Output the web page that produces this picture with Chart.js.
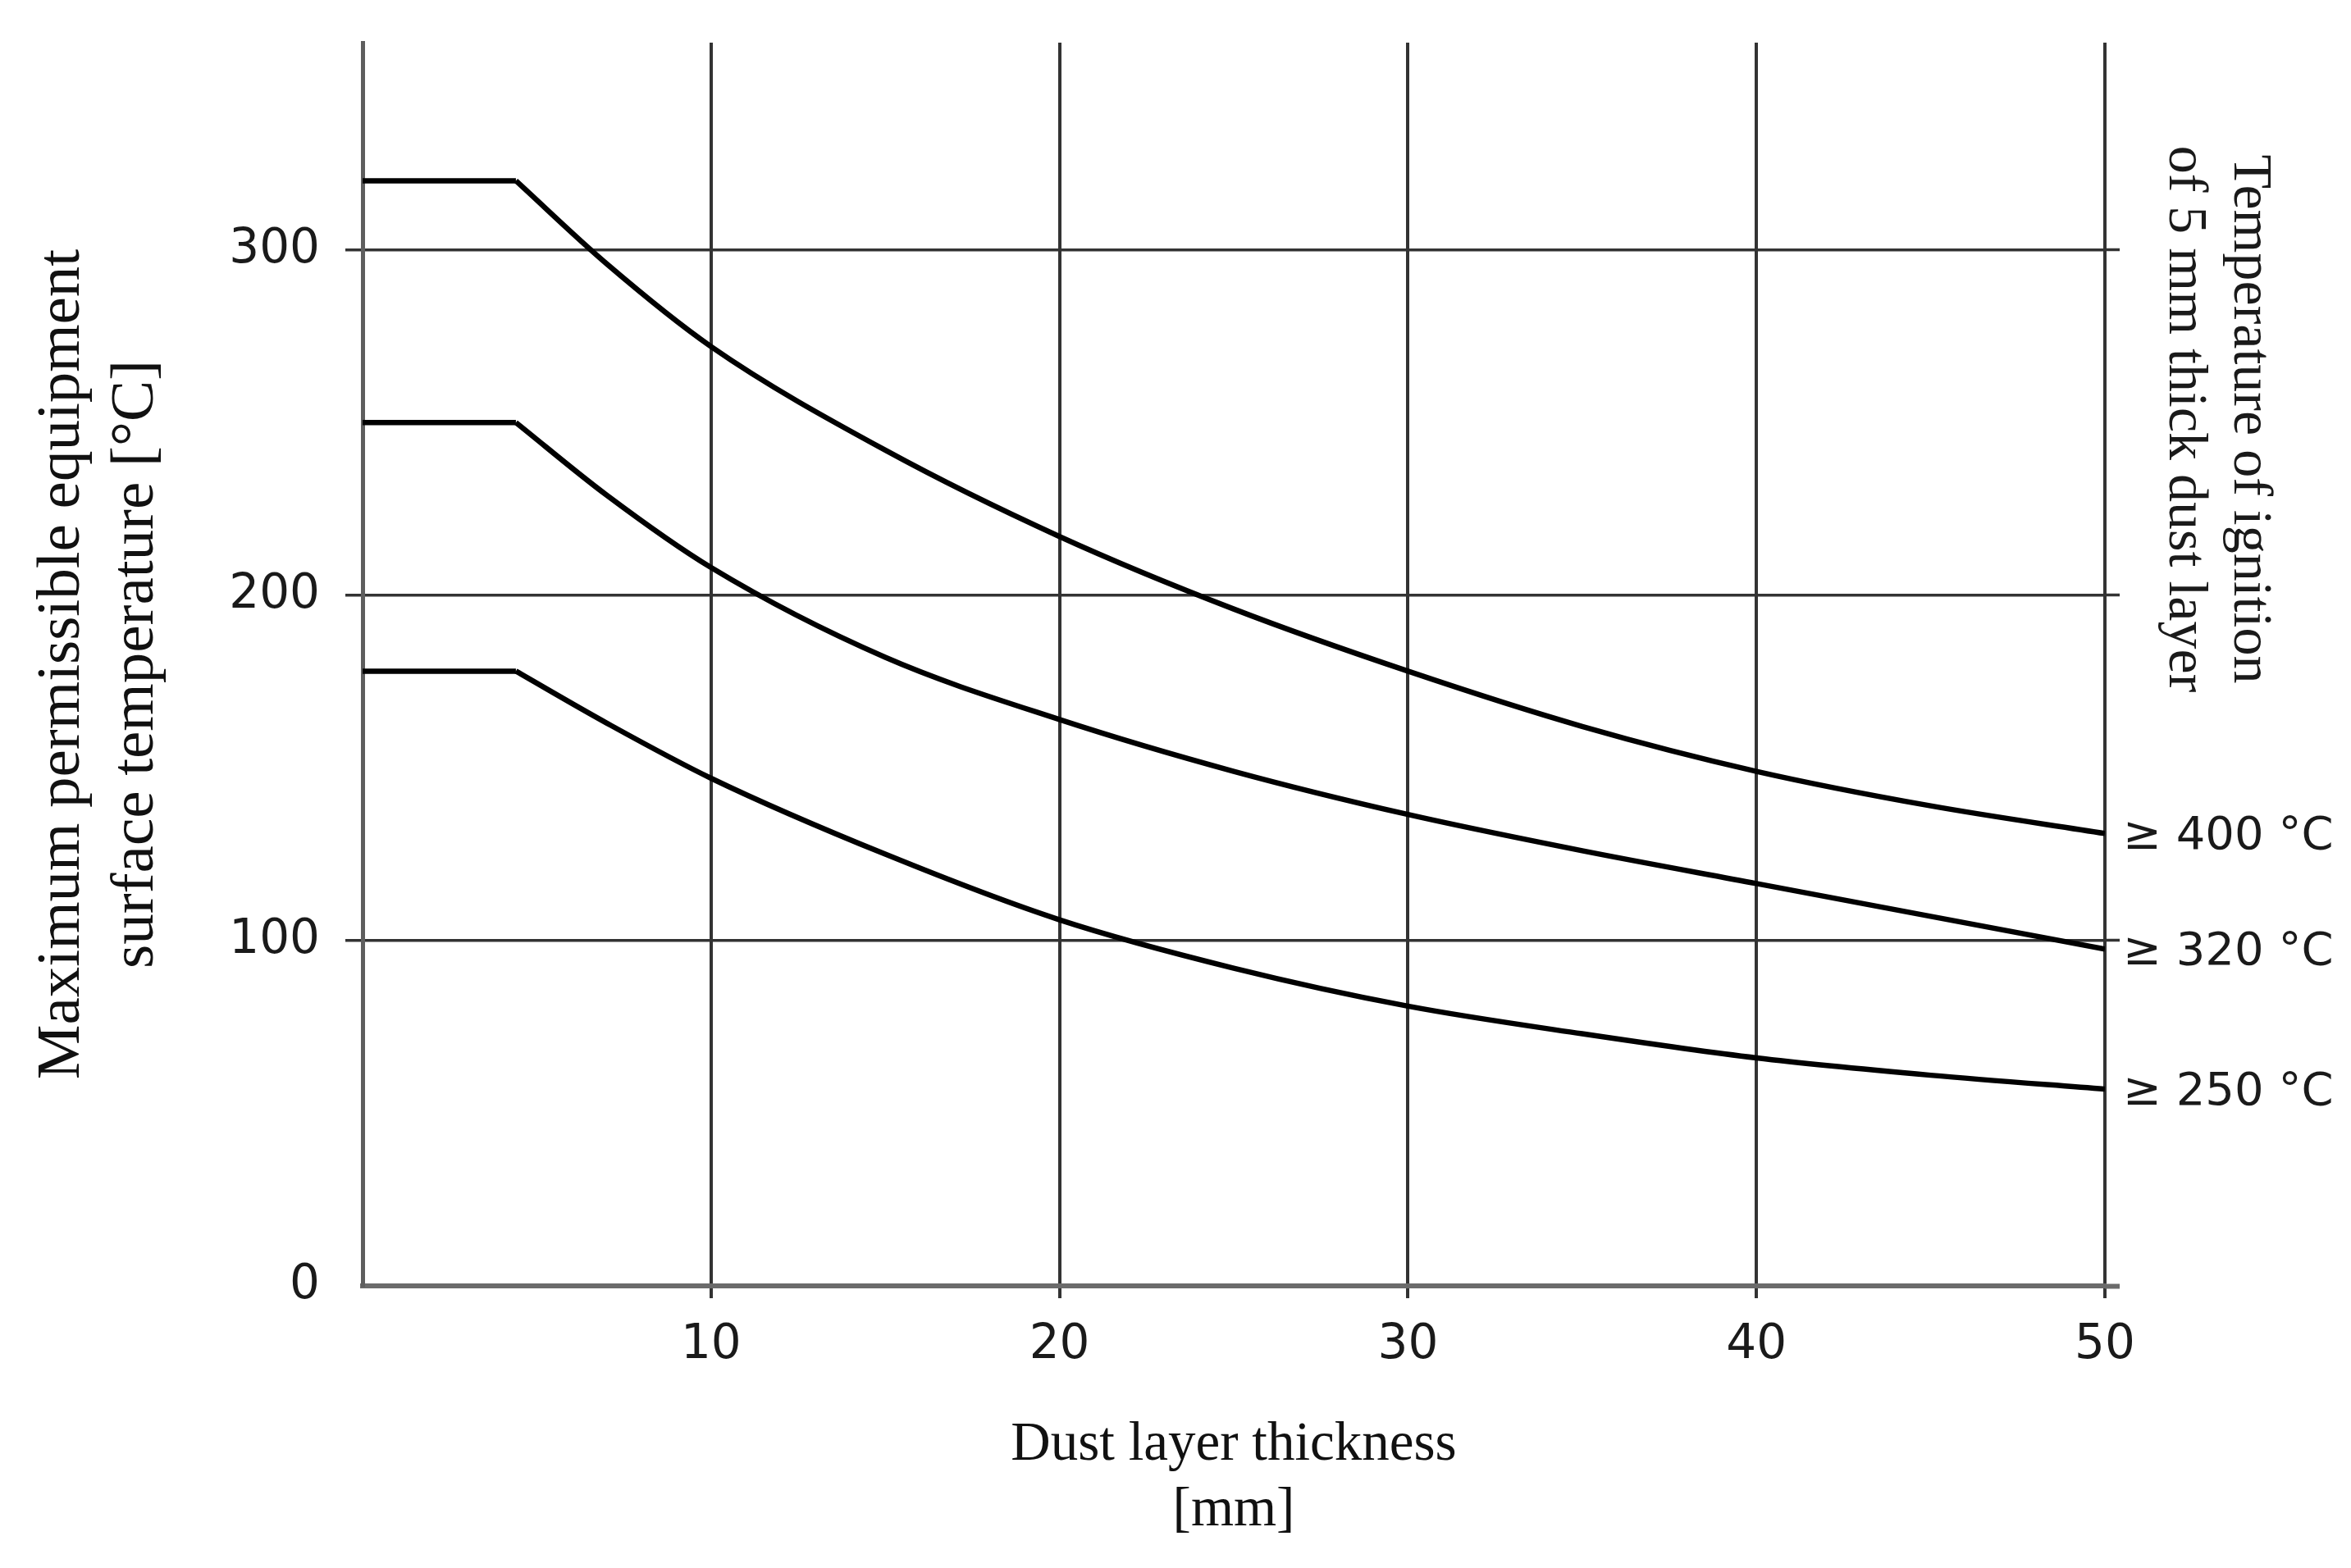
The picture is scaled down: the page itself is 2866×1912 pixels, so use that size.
<!DOCTYPE html>
<html>
<head>
<meta charset="utf-8">
<script src="https://cdn.jsdelivr.net/npm/chart.js@4"></script>
<style>
  html, body { margin: 0; padding: 0; background: #fff; }
</style>
</head>
<body>
<canvas id="dustChart" width="2866" height="1912"></canvas>
<script>
// dust layer thickness [mm]
var thickness = [0, 4.4, 7, 10, 15, 20, 25, 30, 35, 40, 45, 50];
// max permissible surface temperature [°C], one list per ignition class
var temp400 = [320, 320, 296, 272, 242, 217, 196, 178, 162, 149, 139, 131];
var temp320 = [250, 250, 229, 208, 182, 164, 149, 136.5, 126, 116.5, 107, 97.5];
var temp250 = [178, 178, 163, 147, 125, 106, 92, 81, 73, 66, 61, 57];
var curveLabels = ['≥ 400 °C', '≥ 320 °C', '≥ 250 °C'];
var xTicks = [10, 20, 30, 40, 50];
var yTicks = [0, 100, 200, 300];
var rightTitle = ['Temperature of ignition', 'of 5 mm thick dust layer'];

var gridColor = '#333';
var axisColor = '#6b6b6b';

function points(ys, from, to)
{
    return thickness.slice(from, to).map(function (x, i) {
        return { x: x, y: ys[from + i] };
    });
}

// each curve = flat part + curved part, so the knee stays sharp
var datasets = [];
[temp400, temp320, temp250].forEach(function (s) {
    datasets.push({ data: points(s, 0, 2), tension: 0 });
    datasets.push({ data: points(s, 1), cubicInterpolationMode: 'monotone' });
});
datasets.forEach(function (d) {
    d.borderColor = '#000';
    d.borderWidth = 6.5;
    d.pointRadius = 0;
    d.fill = false;
    d.borderJoinStyle = 'round';
});

var sideText = {
    id: 'sideText',
    afterDatasetsDraw: function (chart) {
        var ctx = chart.ctx;
        var ys = chart.scales.y;
        ctx.save();
        ctx.fillStyle = '#1a1a1a';
        ctx.font = '56px "DejaVu Sans"';
        ctx.textBaseline = 'middle';
        ctx.textAlign = 'left';
        [temp400, temp320, temp250].forEach(function (s, i) {
            ctx.fillText(curveLabels[i], chart.chartArea.right + 22, ys.getPixelForValue(s[s.length - 1]) + 4);
        });
        // right title reads top to bottom
        ctx.font = '68px "Liberation Serif"';
        ctx.textAlign = 'center';
        ctx.translate(2742, 511);
        ctx.rotate(Math.PI / 2);
        ctx.fillText(rightTitle[0], 0, 0);
        ctx.fillText(rightTitle[1], 0, 79);
        ctx.restore();
    }
};

function isZero(c) { return c.tick && c.tick.value === 0; }

// keep chart area where the figure has it, no label overhang padding
function noPadY(s) { s.paddingTop = 0; s.paddingBottom = 0; }

var myChart = new Chart(document.getElementById('dustChart'), {
    type: 'line',
    data: { datasets: datasets },
    plugins: [sideText],
    options: {
        responsive: false,
        animation: false,
        layout: { padding: { top: 52, right: 282, left: 0, bottom: 0 } },
        plugins: { legend: { display: false }, tooltip: { enabled: false } },
        scales: {
            x: {
                type: 'linear',
                min: 0,
                max: 50,
                position: 'bottom',
                afterBuildTicks: function (s) { s.ticks = xTicks.map(function (v) { return { value: v }; }); },
                afterFit: function (s) { s.height = 344; s.paddingLeft = 0; s.paddingRight = 0; },
                grid: { color: gridColor, lineWidth: 4, tickLength: 15 },
                border: { display: true, color: axisColor, width: 6 },
                ticks: {
                    font: { family: 'DejaVu Sans', size: 58 },
                    color: '#1a1a1a',
                    padding: 23,
                    maxRotation: 0,
                    autoSkip: false
                },
                title: {
                    display: true,
                    text: ['Dust layer thickness', '[mm]'],
                    font: { family: 'Liberation Serif', size: 67 },
                    color: '#111',
                    padding: { top: 0, bottom: 29 }
                }
            },
            y: {
                type: 'linear',
                min: 0,
                max: 360,
                position: 'left',
                afterBuildTicks: function (s) { s.ticks = yTicks.map(function (v) { return { value: v }; }); },
                afterFit: function (s) { s.width = 442; noPadY(s); },
                grid: {
                    color: function (c) { return isZero(c) ? axisColor : gridColor; },
                    tickColor: function (c) { return isZero(c) ? 'rgba(0,0,0,0)' : gridColor; },
                    lineWidth: 3.5,
                    tickLength: 21
                },
                border: { display: true, color: '#5e5e5e', width: 5 },
                ticks: {
                    font: { family: 'DejaVu Sans', size: 58 },
                    color: '#1a1a1a',
                    padding: 31
                },
                title: {
                    display: true,
                    text: ['Maximum permissible equipment', 'surface temperature [°C]'],
                    font: { family: 'Liberation Serif', size: 75 },
                    color: '#111',
                    padding: { top: 31, bottom: 0 }
                }
            },
            y2: {
                type: 'linear',
                min: 0,
                max: 360,
                position: 'right',
                afterBuildTicks: function (s) { s.ticks = yTicks.map(function (v) { return { value: v }; }); },
                afterFit: function (s) { s.width = 18; noPadY(s); },
                grid: {
                    drawOnChartArea: false,
                    tickLength: 18,
                    tickColor: function (c) { return isZero(c) ? axisColor : gridColor; },
                    tickWidth: function (c) { return isZero(c) ? 6 : 3.5; }
                },
                border: { display: false },
                ticks: { display: false }
            }
        }
    }
});
</script>
</body>
</html>
